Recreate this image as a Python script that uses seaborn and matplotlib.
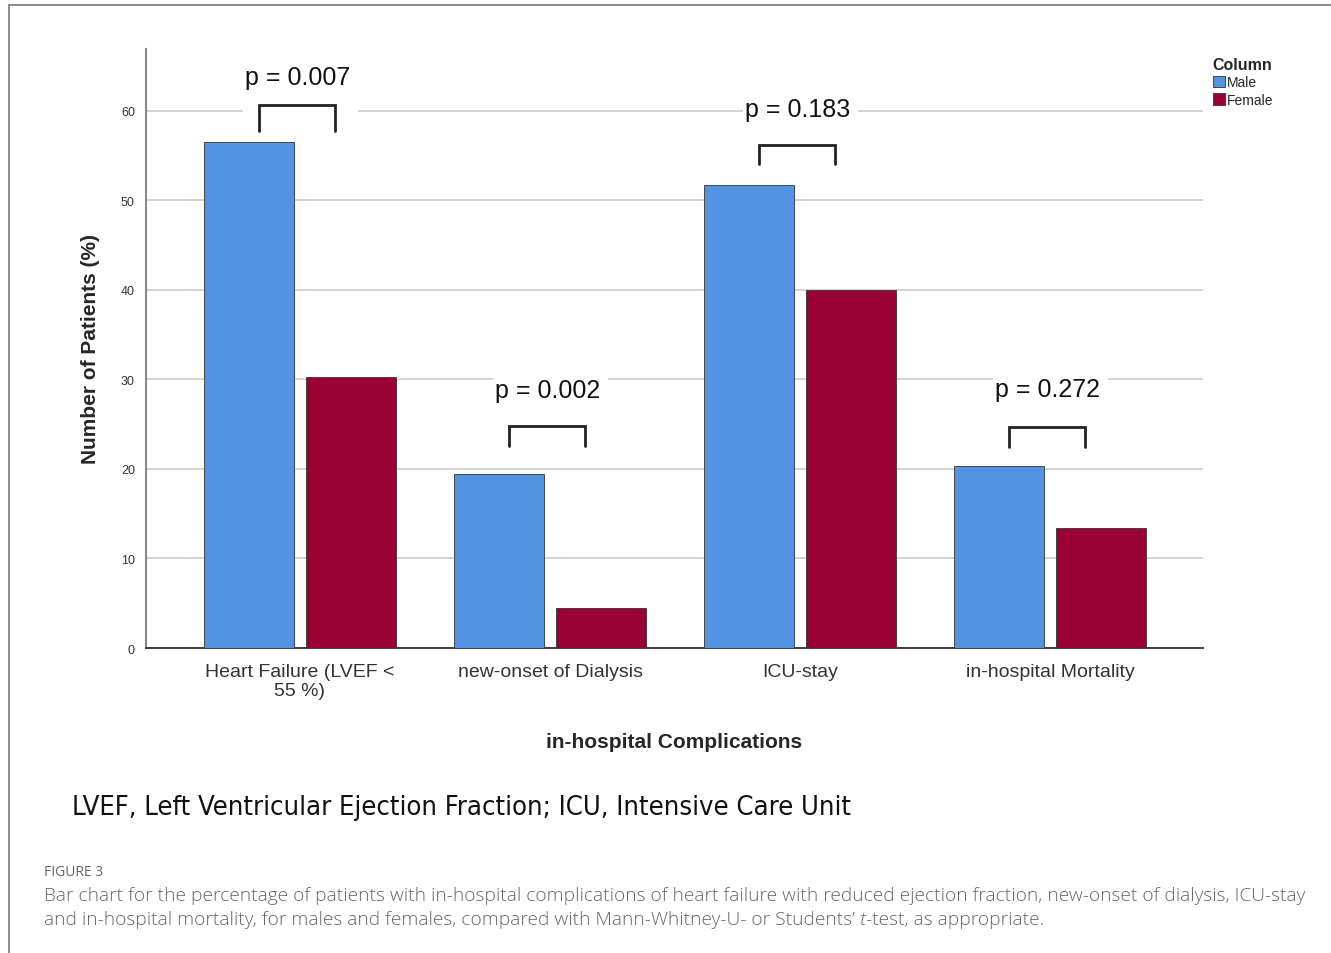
import seaborn as sns
import matplotlib.pyplot as plt
import pandas as pd
from matplotlib.patches import Rectangle
from matplotlib.lines import Line2D

# data
categories = ["Heart Failure (LVEF <\n55 %)", "new-onset of Dialysis", "ICU-stay", "in-hospital Mortality"]
male = [56.5, 19.4, 51.7, 20.3]
female = [30.3, 4.5, 40.0, 13.4]
p_labels = ["p = 0.007", "p = 0.002", "p = 0.183", "p = 0.272"]
p_text_y = [63.8, 28.8, 60.2, 28.9]
bracket_top = [60.6, 24.8, 56.2, 24.7]
bracket_bottom = [57.7, 22.6, 54.1, 22.5]

df = pd.DataFrame({
    "cat": categories * 2,
    "value": male + female,
    "sex": ["Male"] * 4 + ["Female"] * 4,
})

sns.set_style("white")
plt.rcParams["font.family"] = ["Liberation Sans", "DejaVu Sans"]

fig = plt.figure(figsize=(13.31, 9.54), dpi=100)
ax = fig.add_axes([146 / 1331, 1 - 649 / 954, (1203 - 146) / 1331, (649 - 50) / 954])

sns.barplot(data=df, x="cat", y="value", hue="sex", ax=ax,
            palette={"Male": "#5394e2", "Female": "#990033"}, saturation=1,
            width=0.816, gap=0.11, edgecolor="#333333", linewidth=0.6,
            legend=False, zorder=3)

ax.set_xlim(-0.616, 3.612)
ax.set_ylim(0, 66.9)
ax.set_yticks(range(0, 61, 10))
ax.yaxis.grid(True, color="#cccccc", linewidth=1.2, zorder=0)
ax.set_axisbelow(True)
for s in ["top", "right"]:
    ax.spines[s].set_visible(False)
ax.spines["left"].set_color("#888888")
ax.spines["left"].set_linewidth(1.5)
ax.spines["bottom"].set_color("#333333")
ax.spines["bottom"].set_linewidth(1.3)
ax.tick_params(axis="y", labelsize=9, colors="#333333", length=0, pad=8)
ax.tick_params(axis="x", labelsize=14, colors="#333333", length=0, pad=11)
for lbl in ax.get_xticklabels():
    lbl.set_linespacing(1.1)

ax.set_xlabel("in-hospital Complications", fontsize=15, fontweight="bold", labelpad=24)
ax.set_ylabel("Number of Patients (%)", fontsize=15, fontweight="bold", labelpad=15)

# p-value brackets
for i in range(4):
    x0, x1 = i - 0.164, i + 0.14
    ax.add_patch(Rectangle((i - 0.23, bracket_bottom[i] - 0.3), 0.46,
                           p_text_y[i] + 2.5 - bracket_bottom[i],
                           facecolor="white", edgecolor="none", zorder=1))
    ax.plot([x0, x0, x1, x1], [bracket_bottom[i], bracket_top[i], bracket_top[i], bracket_bottom[i]],
            color="#222222", linewidth=2, zorder=4, solid_joinstyle="miter")
    ax.text(i - 0.01, p_text_y[i], p_labels[i], ha="center", va="center",
            fontsize=18, color="#111111", zorder=4)

# legend
handles = [Rectangle((0, 0), 1, 1, facecolor="#5394e2", edgecolor="#333333", linewidth=0.6),
           Rectangle((0, 0), 1, 1, facecolor="#990033", edgecolor="#333333", linewidth=0.6)]
leg = fig.legend(handles, ["Male", "Female"], title="Column", loc="upper left",
                 bbox_to_anchor=(1203 / 1331, 1 - 48 / 954), frameon=False,
                 fontsize=10, title_fontproperties={"weight": "bold", "size": 11.5},
                 handlelength=0.9, handleheight=0.9, handletextpad=0.15,
                 labelspacing=0.25, borderpad=0.2)
leg._legend_box.align = "left"

# footnote and caption
fig.text(72 / 1331, 1 - 808 / 954, "LVEF, Left Ventricular Ejection Fraction; ICU, Intensive Care Unit",
         fontsize=19.6, family=["DejaVu Sans"], fontstretch="condensed", color="#111111",
         va="center", ha="left")
fig.text(44 / 1331, 1 - 873 / 954, "FIGURE 3", fontsize=10, family=["Open Sans", "DejaVu Sans"],
         color="#666666", va="center", ha="left")
cap_font = dict(fontsize=13.75, family=["Open Sans", "DejaVu Sans"], color="#666666",
                va="center", ha="left", fontweight="light")
fig.text(44 / 1331, 1 - 896 / 954,
         "Bar chart for the percentage of patients with in-hospital complications of heart failure with "
         "reduced ejection fraction, new-onset of dialysis, ICU-stay", **cap_font)
renderer = fig.canvas.get_renderer()
parts = [("and in-hospital mortality, for males and females, compared with Mann-Whitney-U- or Students\u2019 ", "normal"),
         ("t", "italic"),
         ("-test, as appropriate.", "normal")]
xpos = 44
for txt, style in parts:
    t = fig.text(xpos / 1331, 1 - 920 / 954, txt, style=style, **cap_font)
    xpos += t.get_window_extent(renderer).width

# frame lines at top and left
fig.add_artist(Line2D([9 / 1331, 9 / 1331], [0, 1 - 6 / 954], color="#777777", linewidth=1.2))
fig.add_artist(Line2D([9 / 1331, 1], [1 - 6 / 954, 1 - 6 / 954], color="#777777", linewidth=1.2))

fig.savefig("out.png", dpi=100)
